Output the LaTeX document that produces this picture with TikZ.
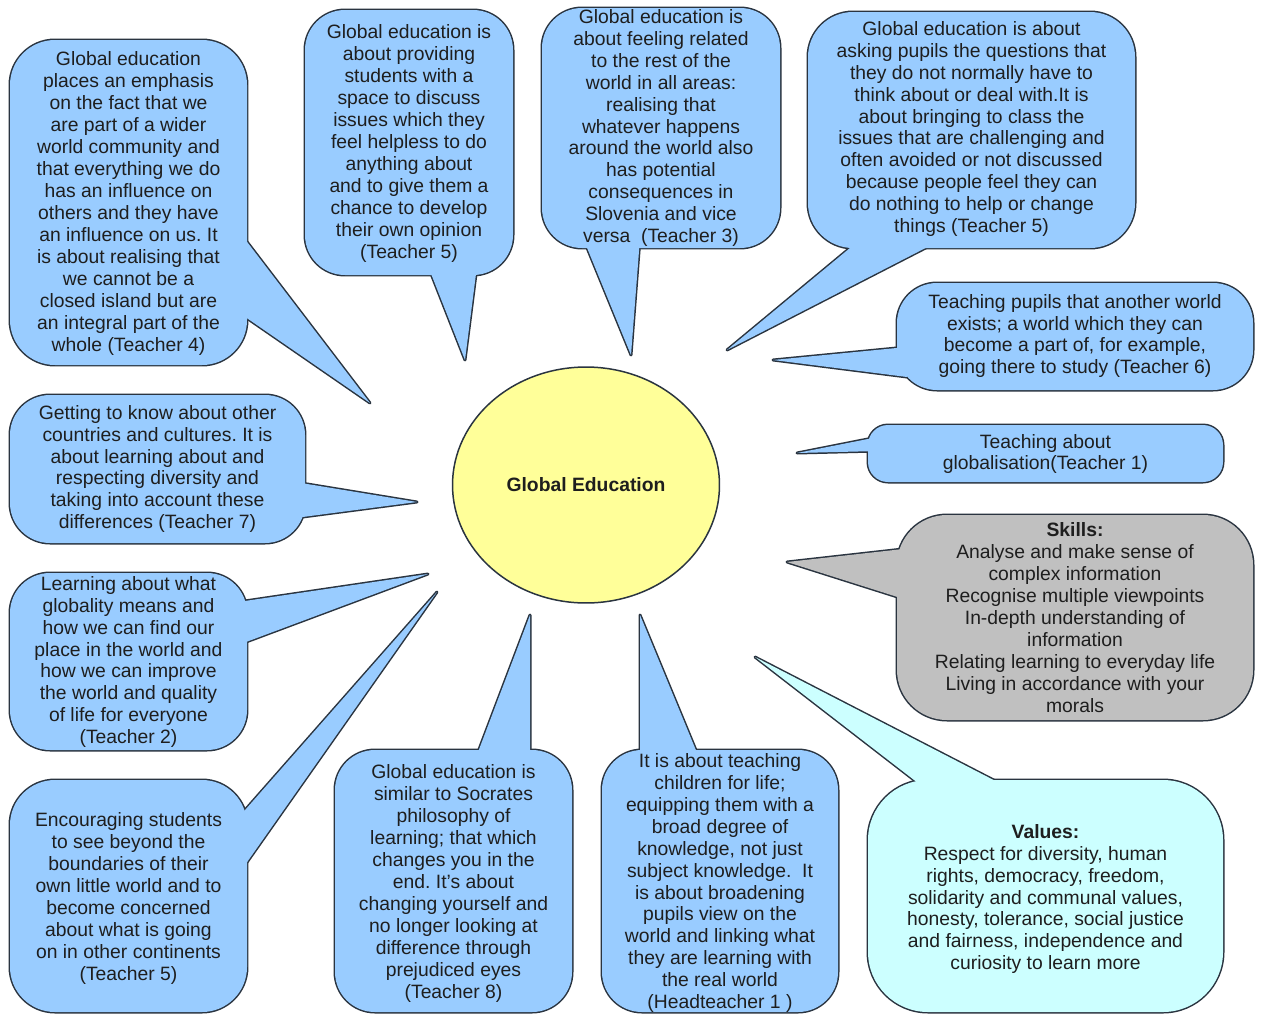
\documentclass[tikz,border=0pt]{standalone}
\usepackage{fontspec}
\setmainfont{Liberation Sans}
\usepackage{xcolor}
\usepackage{tikz}
\usetikzlibrary{shapes.geometric}
\frenchspacing

\definecolor{sky}{HTML}{99CCFF}
\definecolor{mist}{HTML}{C0C0C0}
\definecolor{ice}{HTML}{CCFFFF}
\definecolor{sun}{HTML}{FFFF99}
\definecolor{rimcol}{HTML}{2A3440}
\definecolor{ink}{HTML}{1E1E1E}

\pgfdeclarelayer{ground}
\pgfdeclarelayer{rim}
\pgfdeclarelayer{paint}
\pgfsetlayers{ground,rim,paint,main}

% #1 colour, #2 corner, #3 top left, #4 bottom right, #5 base, #6 tip, #7 base
\newcommand{\bubble}[7]{%
	\begin{pgfonlayer}{rim}
		\draw[rimline, rounded corners=#2] (#3) rectangle (#4);
		\draw[rimline] (#5) -- (#6) -- (#7) -- cycle;
	\end{pgfonlayer}
	\begin{pgfonlayer}{paint}
		\fill[#1, rounded corners=#2] (#3) rectangle (#4);
		\fill[#1] (#5) -- (#6) -- (#7) -- cycle;
	\end{pgfonlayer}}

\begin{document}
\begin{tikzpicture}[x=0.02cm, y=-0.02cm,
		rimline/.style = {draw=rimcol, line width=1.7pt, line join=round},
		say/.style = {align=center, text=ink, inner sep=0pt, font=\fontsize{11pt}{12.5pt}\selectfont},
		hub/.style = {ellipse, draw=rimcol, line width=0.85pt, fill=sun, minimum width=5.34cm, minimum height=4.72cm, text=ink, font=\fontsize{11pt}{13pt}\selectfont\bfseries}]
		\begin{pgfonlayer}{ground}
			\fill[white] (0,0) rectangle (1263,1014);
		\end{pgfonlayer}
		\useasboundingbox (0,0) rectangle (1263,1014);
		
		% centre
		\node[hub] (ge) at (586,485) {Global Education};
		
		% tips
		\path[shape=coordinate]
		(370,403) coordinate(t4tip)
		(465,360) coordinate(t5atip)
		(631,355) coordinate(t3tip)
		(727,350) coordinate(t5btip)
		(773,360) coordinate(t6tip)
		(797,453) coordinate(t1tip)
		(787,562) coordinate(sktip)
		(755,657) coordinate(vatip)
		(640,615) coordinate(httip)
		(530,615) coordinate(t8tip)
		(417,502) coordinate(t7tip)
		(428,574) coordinate(t2tip)
		(437,592) coordinate(t5ctip);
		
		% bubbles
		\bubble{sky}{0.9cm}{10,40}{247,365}{238,230}{t4tip}{238,312}
		\bubble{sky}{0.8cm}{305,10}{513,275}{428,266}{t5atip}{477,266}
		\bubble{sky}{0.8cm}{542,8}{780,248}{583,238}{t3tip}{640,238}
		\bubble{sky}{0.9cm}{808,12}{1135,248}{862,238}{t5btip}{945,238}
		\bubble{sky}{0.8cm}{897,283}{1253,390}{907,347}{t6tip}{907,377}
		\bubble{sky}{0.4cm}{868,425}{1223,482}{878,437}{t1tip}{878,451}
		\bubble{mist}{1cm}{897,515}{1253,720}{912,548}{sktip}{907,600}
		\bubble{ice}{1.2cm}{868,780}{1223,1012}{927,790}{vatip}{1013,790}
		\bubble{sky}{0.8cm}{602,750}{838,1012}{640,760}{httip}{700,760}
		\bubble{sky}{0.8cm}{335,750}{572,1012}{475,760}{t8tip}{530,760}
		\bubble{sky}{0.8cm}{10,395}{305,543}{295,482}{t7tip}{295,518}
		\bubble{sky}{0.8cm}{10,573}{247,750}{238,602}{t2tip}{238,645}
		\bubble{sky}{0.9cm}{10,780}{247,1012}{238,818}{t5ctip}{238,875}
		
		% texts
		\node[say] (t4) at (128.5,203.5) {Global education\\places an emphasis\\on the fact that we\\are part of a wider\\world community and\\that everything we do\\has an influence on\\others and they have\\an influence on us. It\\is about realising that\\we cannot be a\\closed island but are\\an integral part of the\\whole (Teacher 4)};
		\node[say] (t5a) at (409,143.5) {Global education is\\about providing\\students with a\\space to discuss\\issues which they\\feel helpless to do\\anything about\\and to give them a\\chance to develop\\their own opinion\\(Teacher 5)};
		\node[say] (t3) at (661,128) {Global education is\\about feeling related\\to the rest of the\\world in all areas:\\realising that\\whatever happens\\around the world also\\has potential\\consequences in\\Slovenia and vice\\versa\ \ (Teacher 3)};
		\node[say] (t5b) at (971.5,129) {Global education is about\\asking pupils the questions that\\they do not normally have to\\think about or deal with.It is\\about bringing to class the\\issues that are challenging and\\often avoided or not discussed\\because people feel they can\\do nothing to help or change\\things (Teacher 5)};
		\node[say] (t6) at (1075,336) {Teaching pupils that another world\\exists; a world which they can\\become a part of, for example,\\going there to study (Teacher 6)};
		\node[say] (t1) at (1045.5,454) {Teaching about\\globalisation(Teacher 1)};
		\node[say] (sk) at (1075,617.5) {\textbf{Skills:}\\Analyse and make sense of\\complex information\\Recognise multiple viewpoints\\In-depth understanding of\\information\\Relating learning to everyday life\\Living in accordance with your\\morals};
		\node[say] (va) at (1045.5,899) {\textbf{Values:}\\Respect for diversity, human\\rights, democracy, freedom,\\solidarity and communal values,\\honesty, tolerance, social justice\\and fairness, independence and\\curiosity to learn more};
		\node[say] (ht) at (720,883) {It is about teaching\\children for life;\\equipping them with a\\broad degree of\\knowledge, not just\\subject knowledge.\ \ It\\is about broadening\\pupils view on the\\world and linking what\\they are learning with\\the real world\\(Headteacher 1 )};
		\node[say] (t8) at (453.5,883.5) {Global education is\\similar to Socrates\\philosophy of\\learning; that which\\changes you in the\\end. It's about\\changing yourself and\\no longer looking at\\difference through\\prejudiced eyes\\(Teacher 8)};
		\node[say] (t7) at (157.5,469) {Getting to know about other\\countries and cultures. It is\\about learning about and\\respecting diversity and\\taking into account these\\differences (Teacher 7)};
		\node[say] (t2) at (128.5,662) {Learning about what\\globality means and\\how we can find our\\place in the world and\\how we can improve\\the world and quality\\of life for everyone\\(Teacher 2)};
		\node[say] (t5c) at (128.5,898.5) {Encouraging students\\to see beyond the\\boundaries of their\\own little world and to\\become concerned\\about what is going\\on in other continents\\(Teacher 5)};
	\end{tikzpicture}
\end{document}
